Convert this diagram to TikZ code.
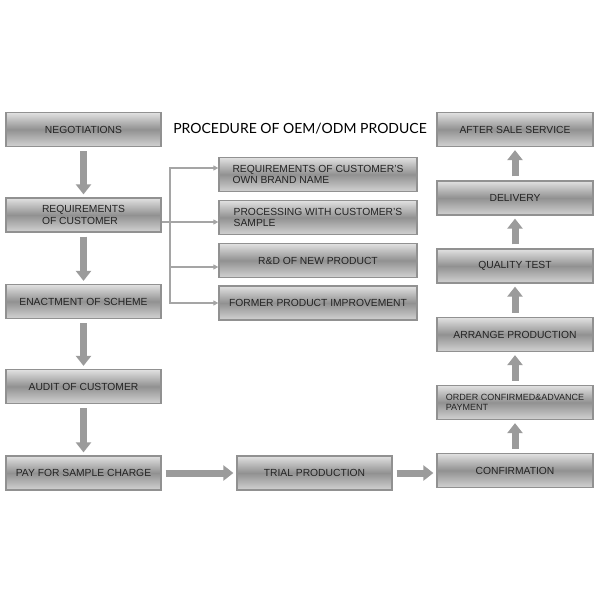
\documentclass[tikz,border=0pt]{standalone}
\usepackage{fontspec}
\setmainfont{Liberation Sans}
\newfontfamily\titlefont{Lato}
\usetikzlibrary{arrows.meta,positioning}
\definecolor{rim}{RGB}{145,145,145}
\definecolor{boxtop}{RGB}{225,225,225}
\definecolor{boxmid}{RGB}{145,145,145}
\definecolor{boxbot}{RGB}{210,210,210}
\definecolor{shaft}{RGB}{155,155,155}
\definecolor{twig}{RGB}{165,165,165}
\definecolor{ink}{RGB}{35,35,35}
\tikzset{
  stage/.style={draw=rim,line width=1.3pt,top color=boxtop,bottom color=boxbot,middle color=boxmid,
    minimum width=#1,minimum height=34pt,inner sep=4pt,align=center,text=ink,
    font=\fontsize{10.3}{11.5}\selectfont},
  stage/.default=155pt,
  bigarrow/.style={draw=shaft,line width=7pt,-{Triangle[length=10pt,width=15pt]},
    shorten <=4pt,shorten >=3pt},
  twig/.style={draw=twig,line width=1.3pt,arrows={-Triangle[length=5pt,width=5pt]}},
}

\begin{document}
\begin{tikzpicture}[x=1pt,y=-1pt]
  \fill[white] (0,0) rectangle (600,600);
  \useasboundingbox (0,0) rectangle (600,600);
  % left column
  \node[stage] (neg) at (83.5,129.5) {NEGOTIATIONS};
  \node[stage,align=left] (req) at (83.5,215) {REQUIREMENTS\\OF CUSTOMER};
  \node[stage] (scheme) at (83.5,301.5) {ENACTMENT OF SCHEME};
  \node[stage] (audit) at (83.5,386.5) {AUDIT OF CUSTOMER};
  \node[stage] (pay) at (83.5,473) {PAY FOR SAMPLE CHARGE};
  % title
  \node[font=\titlefont\fontsize{14}{14}\selectfont,text=black] (title) at (300,128.5) {PROCEDURE OF OEM/ODM PRODUCE};
  % options of the customer
  \node[stage=198pt,align=left] (own) at (318,174.5) {REQUIREMENTS OF CUSTOMER'S\\OWN BRAND NAME};
  \node[stage=198pt,align=left] (sample) at (318,217.5) {PROCESSING WITH CUSTOMER'S\\SAMPLE};
  \node[stage=198pt] (rnd) at (318,260.5) {R\&D OF NEW PRODUCT};
  \node[stage=198pt] (former) at (318,303) {FORMER PRODUCT IMPROVEMENT};
  % bottom and right column
  \node[stage] (trial) at (314.5,473) {TRIAL PRODUCTION};
  \node[stage=156pt] (confirm) at (515,470.5) {CONFIRMATION};
  \node[stage=156pt,align=left,font=\fontsize{9}{10.5}\selectfont] (order) at (515,402.5) {ORDER CONFIRMED\&ADVANCE\\PAYMENT};
  \node[stage=156pt] (arrange) at (515,334.5) {ARRANGE PRODUCTION};
  \node[stage=156pt] (quality) at (515,266) {QUALITY TEST};
  \node[stage=156pt] (delivery) at (515,198) {DELIVERY};
  \node[stage=156pt] (after) at (515,129.5) {AFTER SALE SERVICE};

  \coordinate (fork) at (170,222);
  \draw[twig,-] ([yshift=-7pt]req.east) -- (fork);
  \foreach \n/\s in {own/6.5,sample/-4.5,rnd/-6.5,former/0}
    \draw[twig,arrows={Triangle[length=5pt,width=5pt]-}] ([yshift=\s pt]\n.west) -| (fork);

  \draw[bigarrow] (neg) -- (req);
  \draw[bigarrow] (req) -- (scheme);
  \draw[bigarrow] (scheme) -- (audit);
  \draw[bigarrow] (audit) -- (pay);
  \draw[bigarrow] (pay) -- (trial);
  \draw[bigarrow] (trial.east) -- (confirm.west |- trial.east);
  \foreach \a/\b in {confirm/order,order/arrange,arrange/quality,quality/delivery,delivery/after}
    \draw[bigarrow] (\a) -- (\b);
\end{tikzpicture}
\end{document}
